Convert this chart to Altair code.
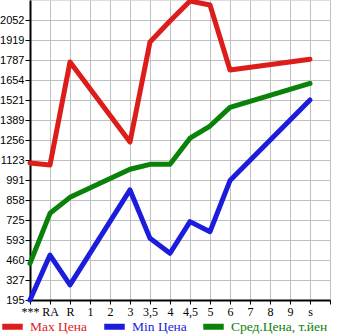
import altair as alt
import pandas as pd

categories = ["***", "RA", "R", "1", "2", "3", "3,5", "4", "4,5", "5", "6", "7", "8", "9", "s"]
max_vals = [1104, 1090, 1774, None, None, 1243, 1906, 2046, 2178, 2152, 1721, None, None, None, 1792]
min_vals = [195, 493, 295, None, None, 925, 604, 505, 715, 648, 987, None, None, None, 1522]
avg_vals = [438, 770, 876, None, None, 1062, 1095, 1095, 1268, 1349, 1473, None, None, None, 1632]
y_ticks = [195, 327, 460, 593, 725, 858, 991, 1123, 1256, 1389, 1521, 1654, 1787, 1919, 2052]
series_names = ["Max Цена", "Min Цена", "Сред.Цена, т.йен"]
series_colors = ["#dd1c1c", "#1c1cdd", "#0a820a"]

rows = []
for name, vals in zip(series_names, [max_vals, min_vals, avg_vals]):
    for i, v in enumerate(vals):
        if v is not None:
            rows.append({"idx": i, "value": v, "series": name, "order": i})
df = pd.DataFrame(rows)

label_expr = "[" + ",".join("'" + c + "'" for c in categories) + ",''][datum.value]"

chart = alt.Chart(df).mark_line(strokeWidth=5, strokeCap="round", strokeJoin="round").encode(
    x=alt.X("idx:Q",
            scale=alt.Scale(domain=[0, 15], nice=False, zero=False),
            axis=alt.Axis(values=list(range(16)), labelExpr=label_expr, title=None,
                          labelFont="Liberation Serif", labelFontSize=12, labelColor="#000",
                          tickColor="#000", tickSize=4, labelPadding=2,
                          domainColor="#000", domainWidth=2, gridColor="#c0c0c0",
                          labelFlush=False, labelOverlap=False)),
    y=alt.Y("value:Q",
            scale=alt.Scale(domain=[195, 2185], nice=False, zero=False),
            axis=alt.Axis(values=y_ticks, title=None, format="d",
                          labelFont="Liberation Sans", labelFontSize=11, labelColor="#000",
                          tickColor="#000", tickSize=5, labelPadding=1,
                          domainColor="#000", domainWidth=2, gridColor="#c0c0c0",
                          labelFlush=False, labelOverlap=False)),
    color=alt.Color("series:N",
                    scale=alt.Scale(domain=series_names, range=series_colors),
                    legend=alt.Legend(orient="none", legendX=-31, legendY=313, direction="horizontal",
                                      title=None, symbolType="stroke", symbolSize=420, padding=0,
                                      symbolStrokeWidth=6, labelFont="Liberation Serif",
                                      labelFontSize=13.5, labelOffset=4, columnPadding=4,
                                      labelColor=alt.ExprRef("scale('color', datum.value)"))),
    order="order:Q",
).properties(
    width=300, height=300,
    autosize=alt.AutoSizeParams(type="none"),
    padding={"left": 30, "top": 0, "right": 15, "bottom": 35},
).configure_view(fill="#f7f7f7", stroke=None).configure(background="#ffffff")

chart.save("out.html", embed_options={"renderer": "svg", "actions": False})
